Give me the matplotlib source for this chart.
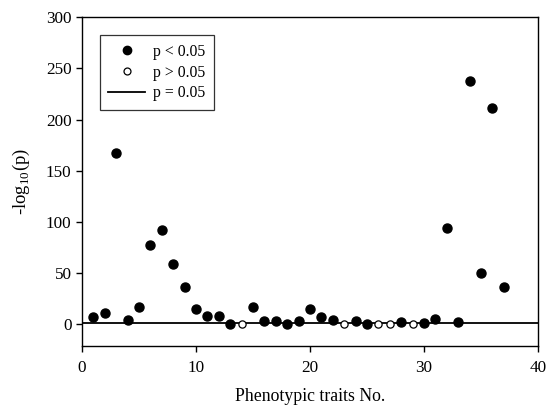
import matplotlib
matplotlib.use("Agg")
import matplotlib.pyplot as plt
from matplotlib.lines import Line2D

plt.rcParams['font.family'] = ['Liberation Serif', 'DejaVu Serif']
plt.rcParams['mathtext.fontset'] = 'custom'
plt.rcParams['mathtext.rm'] = 'Liberation Serif'

sig_x = [1, 2, 3, 4, 5, 6, 7, 8, 9, 10, 11, 12, 13, 15, 16, 17, 18, 19, 20, 21, 22,
         24, 25, 28, 30, 31, 32, 33, 34, 35, 36, 37]
sig_y = [7.5, 11, 167, 4.6, 17, 77.5, 92.5, 59, 36.5, 15.5, 8, 8.5, 0.8, 16.7, 3, 3,
         0.8, 3, 15.5, 7.2, 4.6, 3.2, 0.8, 2.4, 1.3, 4.9, 94.5, 2.4, 237.5, 50, 211.5, 37]
ns_x = [14, 23, 26, 27, 29]
ns_y = [0, 0.5, 0, 0, 0]
threshold = 1.3
x_ticks = [0, 10, 20, 30, 40]
y_ticks = [0, 50, 100, 150, 200, 250, 300]

fig = plt.figure(figsize=(5.47, 4.08), dpi=100)
ax = fig.add_axes([0.150, 0.152, 0.8335, 0.806])

ax.axhline(threshold, color='black', lw=1.3, zorder=1)
ax.plot(sig_x, sig_y, 'o', color='black', ms=6.5, zorder=3, linestyle='none')
ax.plot(ns_x, ns_y, 'o', mfc='white', mec='black', mew=0.9, ms=5.2, zorder=3, linestyle='none')

ax.set_xlim(0, 40)
ax.set_ylim(-21, 300)
ax.set_xticks(x_ticks)
ax.set_yticks(y_ticks)
ax.tick_params(direction='out', length=4, width=1, labelsize=12.3, colors='black')
ax.tick_params(axis='x', pad=6)
for s in ax.spines.values():
    s.set_linewidth(1.0)

ax.set_xlabel('Phenotypic traits No.', fontsize=12.8, labelpad=9)
ax.set_ylabel('-log$_{10}$(p)', fontsize=13.5, labelpad=10)

handles = [
    Line2D([], [], marker='o', color='black', linestyle='none', ms=6),
    Line2D([], [], marker='o', mfc='white', mec='black', mew=0.9, linestyle='none', ms=5),
    Line2D([], [], color='black', lw=1.3),
]
leg = ax.legend(handles, ['p < 0.05', 'p > 0.05', 'p = 0.05'],
                loc='upper left', bbox_to_anchor=(0.039, 0.945), borderaxespad=0,
                fontsize=11.3, frameon=True, fancybox=False, edgecolor='black',
                handlelength=2.3, borderpad=0.55, labelspacing=0.3, handletextpad=0.55)
leg.get_frame().set_linewidth(0.9)

fig.savefig('out.png', dpi=100)
